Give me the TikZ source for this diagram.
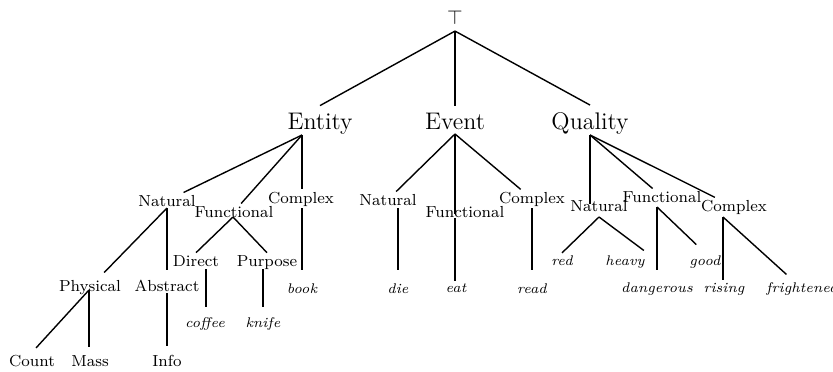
\documentclass[tikz,border=0pt]{standalone}
\usepackage{amsmath}
\usepackage{amssymb}
\usetikzlibrary{calc}

\begin{document}
\begin{tikzpicture}[x=0.5pt,y=-0.5pt]
  \tikzstyle{catone}=[anchor=base, font=\large]
  \tikzstyle{cat}=[anchor=base, inner sep=1pt, font=\footnotesize]
  \tikzstyle{word}=[anchor=base, inner sep=1pt, font=\scriptsize\itshape]
  \tikzstyle{branch}=[line width=0.7pt]

  \useasboundingbox (0,0) rectangle (833,371);

  \node[anchor=base] (root) at (455,24) {$\top$};

  \node[catone] (ent) at (320,129) {Entity};
  \node[catone] (evt) at (455,129) {Event};
  \node[catone] (qual) at (590,129) {Quality};

  % Entity
  \node[cat] (enat) at (167,206) {Natural};
  \node[cat] (efun) at (234,217) {Functional};
  \node[cat] (ecx) at (301,203) {Complex};
  \node[cat] (phys) at (90,291) {Physical};
  \node[cat] (abst) at (167,291) {Abstract};
  \node[cat] (direct) at (196,266) {Direct};
  \node[cat] (purp) at (267,266) {Purpose};
  \node[cat] (count) at (32,366) {Count};
  \node[cat] (mass) at (90,366) {Mass};
  \node[cat] (info) at (167,366) {Info};
  \node[word] (coffee) at (205,327) {coffee};
  \node[word] (knife) at (263,327) {knife};
  \node[word] (book) at (302,293) {book};

  % Event
  \node[cat] (evnat) at (388,205) {Natural};
  \node[cat] (evfun) at (465,217) {Functional};
  \node[cat] (evcx) at (532,203) {Complex};
  \node[word] (die) at (398,293) {die};
  \node[word] (eat) at (456,292) {eat};
  \node[word] (read) at (532,293) {read};

  % Quality
  \node[cat] (qnat) at (599,211) {Natural};
  \node[cat] (qfun) at (662,202) {Functional};
  \node[cat] (qcx) at (734,211) {Complex};
  \node[word] (red) at (562,265) {red};
  \node[word] (heavy) at (625,265) {heavy};
  \node[word] (good) at (705,265) {good};
  \node[word] (dangerous) at (657,292) {dangerous};
  \node[word] (rising) at (724,292) {rising};
  \node[word] (frightened) at (802,292) {frightened};

  % puntos de union
  \coordinate (ent-j) at (302,135);
  \coordinate (evt-j) at (455,134);
  \coordinate (qual-j) at (590,135);
  \coordinate (enat-j) at (167,208);
  \coordinate (efun-j) at (233,217);
  \coordinate (ecx-j) at (302,208);
  \coordinate (phys-j) at (89,290);
  \coordinate (abst-j) at (167,293);
  \coordinate (direct-j) at (206,269);
  \coordinate (purp-j) at (263,269);
  \coordinate (evnat-j) at (398,208);
  \coordinate (evfun-j) at (455,218);
  \coordinate (evcx-j) at (532,208);
  \coordinate (qnat-j) at (599,217);
  \coordinate (qfun-j) at (657,207);
  \coordinate (qcx-j) at (723,217);

  \draw[branch] (root.south) -- (ent.north);
  \draw[branch] (root.south) -- (evt.north);
  \draw[branch] (root.south) -- (qual.north);

  \draw[branch] (ent-j) -- (enat);
  \draw[branch] (ent-j) -- (efun);
  \draw[branch] (ent-j) -- (ent-j |- ecx.north);
  \draw[branch] (evt-j) -- (evnat);
  \draw[branch, shorten >=-5pt] (evt-j) -- (evt-j |- evfun.north);
  \draw[branch] (evt-j) -- (evcx);
  \draw[branch, shorten >=-3pt] (qual-j) -- (qual-j |- qnat.north);
  \draw[branch] (qual-j) -- (qfun);
  \draw[branch] (qual-j) -- (qcx);

  \draw[branch, shorten >=3.5pt] (enat-j) -- (phys);
  \draw[branch, shorten >=3.5pt] (enat-j) -- (enat-j |- abst.north);
  \draw[branch] (efun-j) -- (direct.north);
  \draw[branch] (efun-j) -- (purp.north);
  \draw[branch, shorten >=3pt] (phys-j) -- (count.north);
  \draw[branch, shorten >=3pt] (phys-j) -- (phys-j |- mass.north);
  \draw[branch, shorten >=3pt] (abst-j) -- (abst-j |- info.north);
  \draw[branch, shorten >=4pt] (direct-j) -- (direct-j |- coffee.north);
  \draw[branch, shorten >=4pt] (purp-j) -- (purp-j |- knife.north);
  \draw[branch, shorten >=5.5pt] (ecx-j) -- (ecx-j |- book.north);

  \draw[branch, shorten >=5.5pt] (evnat-j) -- (evnat-j |- die.north);
  \draw[branch] (evfun-j) -- (evfun-j |- eat.north);
  \draw[branch, shorten >=5.5pt] (evcx-j) -- (evcx-j |- read.north);

  \draw[branch] (qnat-j) -- (red.north);
  \draw[branch, shorten >=2pt] (qnat-j) -- (heavy.north east);
  \draw[branch, shorten >=5pt] (qfun-j) -- (qfun-j |- dangerous.north);
  \draw[branch, shorten >=6pt] (qfun-j) -- (good.north);
  \draw[branch] (qcx-j) -- (qcx-j |- rising.north);
  \draw[branch, shorten >=4pt] (qcx-j) -- (frightened);
\end{tikzpicture}
\end{document}
